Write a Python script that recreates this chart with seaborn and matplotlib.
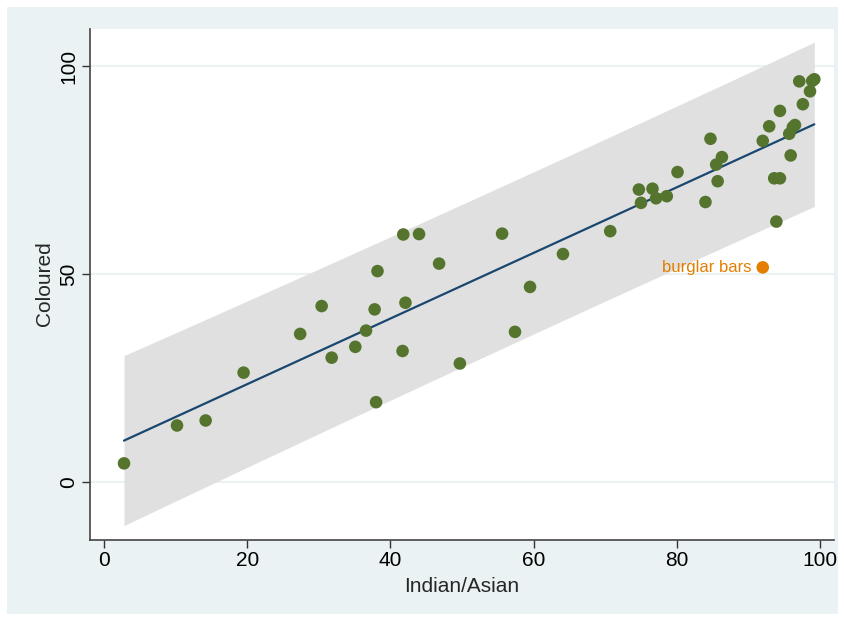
import numpy as np
import pandas as pd
import matplotlib
matplotlib.use("Agg")
import matplotlib.pyplot as plt
import seaborn as sns
from matplotlib.patches import Rectangle

# ---- data ----
indian_asian = [2.8, 10.2, 14.2, 19.5, 27.4, 30.4, 31.8, 35.1, 36.6, 37.8, 38.0, 38.2,
                41.8, 41.7, 42.1, 44.0, 46.8, 49.7, 55.6, 57.4, 59.5, 64.1, 70.7,
                74.7, 75.0, 76.6, 77.1, 78.6, 80.1, 84.0, 84.7, 85.5, 85.7, 86.3,
                92.0, 92.9, 93.6, 94.4, 93.9, 94.4, 95.7, 95.9, 96.2, 96.5, 97.1,
                97.6, 98.6, 98.9, 99.2]
coloured = [4.6, 13.7, 14.9, 26.4, 35.7, 42.4, 30.0, 32.6, 36.5, 41.6, 19.3, 50.8,
            59.6, 31.6, 43.2, 59.7, 52.6, 28.6, 59.8, 36.2, 47.0, 54.9, 60.4,
            70.4, 67.2, 70.6, 68.3, 68.8, 74.6, 67.4, 82.6, 76.4, 72.4, 78.2,
            82.1, 85.6, 73.1, 73.1, 62.7, 89.3, 83.8, 78.6, 85.4, 85.9, 96.4,
            90.9, 94.0, 96.5, 96.9]
label_x = [92.0]
label_y = [51.7]
label_txt = ["burglar bars"]

x_ticks = [0, 20, 40, 60, 80, 100]
y_ticks = [0, 50, 100]

df = pd.DataFrame({"Indian/Asian": indian_asian, "Coloured": coloured})

# ---- linear fit with prediction interval ----
all_x = np.array(indian_asian + label_x)
all_y = np.array(coloured + label_y)
n = len(all_x)
b1, b0 = np.polyfit(all_x, all_y, 1)
resid = all_y - (b0 + b1 * all_x)
s = np.sqrt((resid ** 2).sum() / (n - 2))
xbar = all_x.mean()
sxx = ((all_x - xbar) ** 2).sum()
grid = np.linspace(all_x.min(), all_x.max(), 200)
fit = b0 + b1 * grid
tcrit = 2.0106
half = tcrit * s * np.sqrt(1 + 1 / n + (grid - xbar) ** 2 / sxx)

BG = "#EAF2F3"
GREEN = "#55752F"
NAVY = "#1A476F"
ORANGE = "#E37E00"

sns.set_theme(style="white")
plt.rcParams["font.family"] = ["Liberation Sans", "DejaVu Sans"]

fig = plt.figure(figsize=(8.45, 6.21), dpi=100)
fig.patch.set_facecolor("white")
fig.patches.append(Rectangle((7 / 845, 7 / 621), 831 / 845, 607 / 621,
                             transform=fig.transFigure, facecolor=BG,
                             edgecolor="none", zorder=-10))
ax = fig.add_axes([90 / 845, 81.5 / 621, 744 / 845, 511 / 621])
ax.set_facecolor("white")

ax.fill_between(grid, fit - half, fit + half, color="#E0E0E0", lw=0, zorder=1)
for yv in y_ticks:
    ax.axhline(yv, color=BG, lw=1.6, zorder=0.5)
ax.plot(grid, fit, color=NAVY, lw=1.6, zorder=2)

sns.scatterplot(data=df, x="Indian/Asian", y="Coloured", ax=ax, color=GREEN,
                s=82, edgecolor="none", zorder=3, legend=False)
ax.scatter(label_x, label_y, color=ORANGE, s=82, edgecolor="none", zorder=3)
for lx, ly, t in zip(label_x, label_y, label_txt):
    ax.annotate(t, (lx, ly), xytext=(-8, 0), textcoords="offset points",
                ha="right", va="center", color=ORANGE, fontsize=12)

ax.set_xlim(-1.95, 101.95)
ax.set_ylim(-13.7, 109.1)
ax.set_xticks(x_ticks)
ax.set_yticks(y_ticks)
ax.set_yticklabels([str(v) for v in y_ticks], rotation=90, va="center")
ax.tick_params(axis="both", which="both", direction="out", length=6, width=1,
               color="#333333", labelsize=15, labelcolor="black", pad=2.5,
               left=True, bottom=True)
ax.set_xlabel("Indian/Asian", fontsize=15, labelpad=5)
ax.set_ylabel("Coloured", fontsize=15, labelpad=4)
for side in ["top", "right"]:
    ax.spines[side].set_visible(False)
for side in ["left", "bottom"]:
    ax.spines[side].set_color("#444444")
    ax.spines[side].set_linewidth(1.2)

fig.savefig("out.png", dpi=100, facecolor=fig.get_facecolor())
